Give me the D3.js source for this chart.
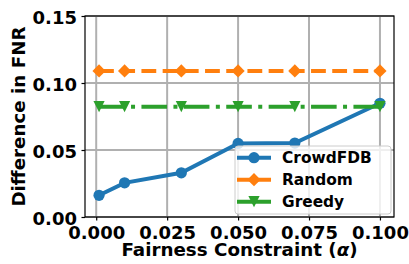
<!DOCTYPE html>
<html>
<head>
<meta charset="utf-8">
<script src="https://cdn.jsdelivr.net/npm/d3@7"></script>
<style>
  body { margin: 0; background: white; }
  svg { display: block; }
  text { font-family: "DejaVu Sans", sans-serif; font-weight: bold; fill: black; }
</style>
</head>
<body>
<svg class="chart"></svg>
<script>
var alphas = [0.001, 0.01, 0.03, 0.05, 0.07, 0.1];
var crowdFDB = [0.0162, 0.0255, 0.0330, 0.0549, 0.0552, 0.0849];
var randomFNR = [0.109, 0.109, 0.109, 0.109, 0.109, 0.109];
var greedyFNR = [0.0823, 0.0823, 0.0823, 0.0823, 0.0823, 0.0823];
var seriesNames = ['CrowdFDB', 'Random', 'Greedy'];
var xTicks = [0, 0.025, 0.05, 0.075, 0.1];
var yTicks = [0, 0.05, 0.1, 0.15];

var chartWidth = 409;
var chartHeight = 264;
var plotLeft = 85, plotRight = 394, plotTop = 16, plotBottom = 217;

var x = d3.scaleLinear().domain([-0.00395, 0.10495]).range([plotLeft, plotRight]);
var y = d3.scaleLinear().domain([0, 0.15]).range([plotBottom, plotTop]);

var series = [
  {name: seriesNames[0], values: crowdFDB, color: '#1f77b4', dash: null, marker: 'circle'},
  {name: seriesNames[1], values: randomFNR, color: '#ff7f0e', dash: '14.8,6.4', marker: 'diamond'},
  {name: seriesNames[2], values: greedyFNR, color: '#2ca02c', dash: '25.6,6.4,4,6.4', marker: 'triangle'},
];

var chart = d3.select('.chart').attr('width', chartWidth).attr('height', chartHeight);

// grid
chart.append('g').selectAll('line')
    .data(xTicks)
    .join('line')
    .attr('x1', d => x(d)).attr('x2', d => x(d))
    .attr('y1', plotTop).attr('y2', plotBottom)
    .style('stroke', '#b0b0b0').style('stroke-width', 2);
chart.append('g').selectAll('line')
    .data(yTicks)
    .join('line')
    .attr('x1', plotLeft).attr('x2', plotRight)
    .attr('y1', d => y(d)).attr('y2', d => y(d))
    .style('stroke', '#b0b0b0').style('stroke-width', 2);

function markerPath(type) {
  if (type === 'circle') {
    return d3.symbol().type(d3.symbolCircle).size(Math.PI * 5.6 * 5.6)();
  } else if (type === 'diamond') {
    var h = 6.6;
    return 'M0,' + (-h) + 'L' + h + ',0L0,' + h + 'L' + (-h) + ',0Z';
  }
  var t = 5.6;
  return 'M' + (-t) + ',' + (-t) + 'L' + t + ',' + (-t) + 'L0,' + t + 'Z';
}

var line = d3.line().x((d, i) => x(alphas[i])).y(d => y(d));

series.forEach(function(s) {
  var g = chart.append('g');
  g.append('path')
      .attr('d', line(s.values))
      .style('fill', 'none')
      .style('stroke', s.color)
      .style('stroke-width', 4)
      .style('stroke-dasharray', s.dash);
  g.selectAll('path.marker')
      .data(s.values)
      .join('path')
      .attr('class', 'marker')
      .attr('transform', (d, i) => 'translate(' + x(alphas[i]) + ',' + y(d) + ')')
      .attr('d', markerPath(s.marker))
      .style('fill', s.color);
});

// axes
var xAxis = d3.axisBottom(x).tickValues(xTicks).tickFormat(d3.format('.3f'))
    .tickSize(3.5).tickPadding(6).tickSizeOuter(0);
var yAxis = d3.axisLeft(y).tickValues(yTicks).tickFormat(d3.format('.2f'))
    .tickSize(3.5).tickPadding(4.5).tickSizeOuter(0);

chart.append('g')
    .attr('transform', 'translate(0,' + plotBottom + ')')
    .call(xAxis)
    .call(g => g.select('.domain').remove())
    .selectAll('text')
    .style('font-size', '18px');
chart.append('g')
    .attr('transform', 'translate(' + plotLeft + ',0)')
    .call(yAxis)
    .call(g => g.select('.domain').remove())
    .selectAll('text')
    .attr('dy', '0.43em')
    .style('font-size', '18px');
chart.selectAll('.tick line').style('stroke', 'black').style('stroke-width', 1.2);
chart.selectAll('.tick text').style('font-family', '"DejaVu Sans", sans-serif').style('font-weight', 'bold');

chart.append('rect')
    .attr('x', plotLeft).attr('y', plotTop)
    .attr('width', plotRight - plotLeft).attr('height', plotBottom - plotTop)
    .style('fill', 'none').style('stroke', 'black').style('stroke-width', 1.2);

// labels
var xLabel = chart.append('text')
    .attr('x', (plotLeft + plotRight) / 2)
    .attr('y', 256)
    .attr('text-anchor', 'middle')
    .style('font-size', '18.3px');
xLabel.append('tspan').text('Fairness Constraint (');
xLabel.append('tspan').style('font-style', 'italic').text('α');
xLabel.append('tspan').text(')');

chart.append('text')
    .attr('transform', 'translate(25,' + ((plotTop + plotBottom) / 2) + ') rotate(-90)')
    .attr('text-anchor', 'middle')
    .style('font-size', '18.3px')
    .text('Difference in FNR');

// legend
var legend = chart.append('g');
legend.append('rect')
    .attr('x', 235).attr('y', 146)
    .attr('width', 156).attr('height', 68)
    .attr('rx', 3)
    .style('fill', 'white').style('fill-opacity', 0.8)
    .style('stroke', '#cccccc').style('stroke-width', 1);

var items = legend.selectAll('g.item')
    .data(series)
    .join('g')
    .attr('class', 'item')
    .attr('transform', (d, i) => 'translate(0,' + (157.7 + i * 22) + ')');
items.append('line')
    .attr('x1', 237).attr('x2', 271)
    .style('stroke', d => d.color).style('stroke-width', 4);
items.append('path')
    .attr('transform', 'translate(254,0)')
    .attr('d', d => markerPath(d.marker))
    .style('fill', d => d.color);
items.append('text')
    .attr('x', 282)
    .attr('dy', '0.36em')
    .style('font-size', '15.4px')
    .text(d => d.name);
</script>
</body>
</html>
